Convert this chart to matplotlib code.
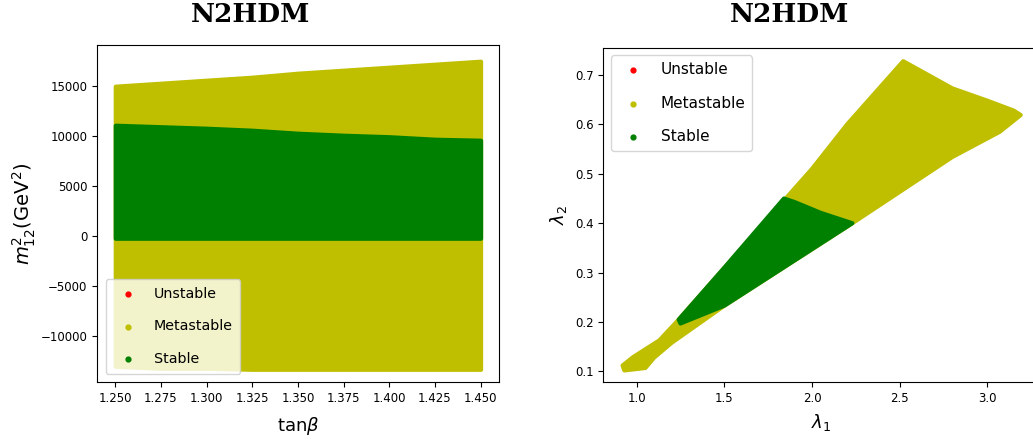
import numpy as np
import matplotlib
matplotlib.use("Agg")
import matplotlib.pyplot as plt

# ---------------- data (region boundaries) ----------------
# Left panel: tan(beta) vs m12^2 bands
tanb_edge = [1.250, 1.275, 1.300, 1.325, 1.350, 1.375, 1.400, 1.425, 1.450]
meta_top = [15000, 15300, 15600, 15900, 16300, 16600, 16900, 17200, 17500]
stable_top = [11100, 10950, 10800, 10600, 10300, 10100, 9950, 9700, 9600]
stable_bottom = [-200, -200, -200, -200, -200, -200, -200, -200, -200]
meta_bottom = [-13000, -13200, -13200, -13300, -13300, -13300, -13300, -13300, -13300]

# Right panel: lambda1 vs lambda2 regions (outline vertices)
meta_lam1 = [0.92, 0.98, 1.13, 1.24, 1.85, 2.00, 2.20, 2.52, 2.80, 3.00, 3.15, 3.19,
             3.07, 2.80, 2.23, 1.50, 1.20, 1.10, 1.05, 0.93]
meta_lam2 = [0.112, 0.129, 0.163, 0.205, 0.450, 0.510, 0.600, 0.728, 0.673, 0.648, 0.628, 0.619,
             0.585, 0.534, 0.400, 0.233, 0.158, 0.128, 0.107, 0.102]
stable_lam1 = [1.24, 1.50, 1.84, 1.90, 2.05, 2.23, 1.50, 1.25]
stable_lam2 = [0.205, 0.310, 0.450, 0.443, 0.421, 0.400, 0.233, 0.197]

xticks_left = [1.250, 1.275, 1.300, 1.325, 1.350, 1.375, 1.400, 1.425, 1.450]
yticks_left = [-10000, -5000, 0, 5000, 10000, 15000]
xticks_right = [1.0, 1.5, 2.0, 2.5, 3.0]
yticks_right = [0.1, 0.2, 0.3, 0.4, 0.5, 0.6, 0.7]
labels = ["Unstable", "Metastable", "Stable"]
title = "N2HDM"

C_UN, C_META, C_ST = "r", "y", "g"

# ---------------- figure ----------------
fig = plt.figure(figsize=(10.33, 4.43), dpi=100)
axL = fig.add_axes([0.0939, 0.137, 0.389, 0.761])
axR = fig.add_axes([0.584, 0.137, 0.4228, 0.755])

def region(ax, x, y, color):
    ax.fill(x, y, facecolor=color, edgecolor=color, linewidth=3, joinstyle="round")

# left
axL.fill_between(tanb_edge, meta_bottom, meta_top, facecolor=C_META, edgecolor=C_META, linewidth=3)
axL.fill_between(tanb_edge, stable_bottom, stable_top, facecolor=C_ST, edgecolor=C_ST, linewidth=3)
for lab, c in zip(labels, [C_UN, C_META, C_ST]):
    axL.scatter([], [], s=12, color=c, label=lab)
axL.set_xlim(1.240, 1.460)
axL.set_ylim(-14600, 19100)
axL.set_xticks(xticks_left)
axL.set_xticklabels([f"{v:.3f}" for v in xticks_left])
axL.set_yticks(yticks_left)
axL.tick_params(labelsize=8.5)
axL.set_xlabel(r"tan$\beta$", fontsize=13, labelpad=7)
axL.set_ylabel(r"$m_{12}^2$(GeV$^2$)", fontsize=14, labelpad=2)
axL.legend(loc="lower left", fontsize=10.3, labelspacing=1.3, borderpad=0.55,
           borderaxespad=0.6, scatterpoints=1)

# right
region(axR, meta_lam1, meta_lam2, C_META)
region(axR, stable_lam1, stable_lam2, C_ST)
for lab, c in zip(labels, [C_UN, C_META, C_ST]):
    axR.scatter([], [], s=12, color=c, label=lab)
axR.set_xlim(0.81, 3.30)
axR.set_ylim(0.078, 0.755)
axR.set_xticks(xticks_right)
axR.set_yticks(yticks_right)
axR.tick_params(labelsize=8.5)
axR.set_xlabel(r"$\lambda_1$", fontsize=13, labelpad=5)
axR.set_ylabel(r"$\lambda_2$", fontsize=13, labelpad=4)
axR.legend(loc="upper left", fontsize=11, labelspacing=1.2, borderpad=0.45,
           scatterpoints=1)

# panel titles (placed as in the reference, not centred on the axes)
fig.text(251 / 1033, 1 - 15 / 443, title, ha="center", va="center",
         fontsize=19, fontweight="bold", family="DejaVu Serif")
fig.text(790 / 1033, 1 - 15 / 443, title, ha="center", va="center",
         fontsize=19, fontweight="bold", family="DejaVu Serif")

fig.savefig("out.png", dpi=100)
